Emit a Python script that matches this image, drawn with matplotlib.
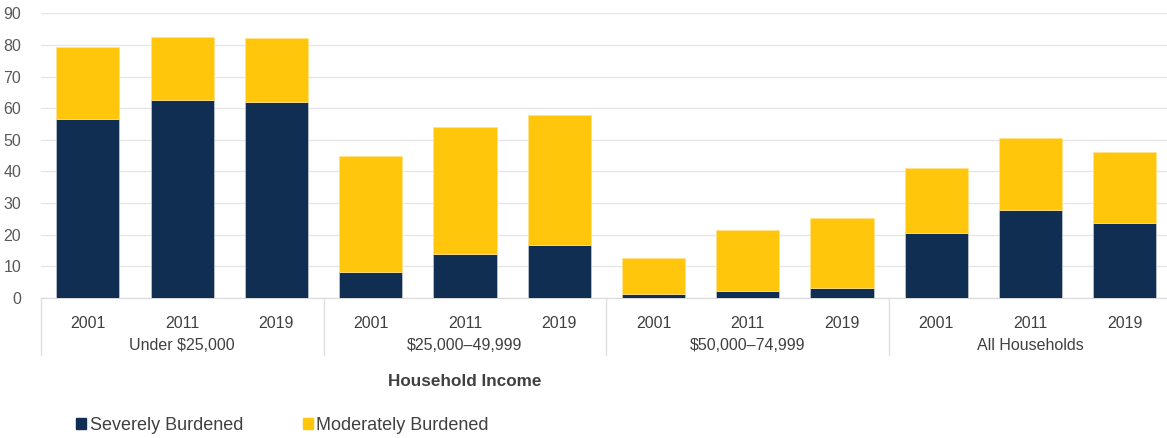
import numpy as np
import matplotlib.pyplot as plt
from matplotlib.patches import Patch
import matplotlib.transforms as mtransforms

plt.rcParams['font.family'] = ['Liberation Sans', 'DejaVu Sans']

# Data
groups = ['Under $25,000', '$25,000–49,999', '$50,000–74,999', 'All Households']
years = ['2001', '2011', '2019']
severe = [56.5, 62.6, 62.1, 8.1, 14.0, 16.7, 1.2, 2.1, 3.2, 20.6, 27.8, 23.8]
total = [79.4, 82.4, 82.2, 45.0, 54.1, 57.9, 12.6, 21.4, 25.3, 41.2, 50.7, 46.2]
moderate = [t - s for t, s in zip(total, severe)]

navy = '#102D52'
yellow = '#FFC60B'
grid_col = '#E6E6E6'
text_col = '#404040'

W, H = 1167, 438
fig = plt.figure(figsize=(W / 100, H / 100), dpi=100)
ax = fig.add_axes([40.7 / W, 1 - 298 / H, (1172 - 40.7) / W, (298 - 13.3) / H])

x = np.arange(len(severe))
ax.bar(x, severe, width=0.67, color=navy, edgecolor='#c8ccd4', linewidth=0.5, zorder=3)
ax.bar(x, moderate, bottom=severe, width=0.67, color=yellow, edgecolor='#ffe28a',
       linewidth=0.5, zorder=3)

ax.set_xlim(-0.5, 11.5)
ax.set_ylim(0, 90)
ax.set_yticks(range(0, 91, 10))
ax.yaxis.grid(True, color=grid_col, linewidth=1)
ax.set_axisbelow(True)
for s in ['top', 'right', 'left']:
    ax.spines[s].set_visible(False)
ax.spines['bottom'].set_color('#D9D9D9')
ax.tick_params(axis='y', length=0, labelsize=11.5, labelcolor='#595959', pad=14)

ax.set_xticks(x)
ax.set_xticklabels(years * len(groups))
ax.tick_params(axis='x', length=0, labelsize=11.5, labelcolor=text_col, pad=13)

# group labels and separators
trans = mtransforms.blended_transform_factory(ax.transData, ax.transAxes)
sep_bottom = -(355 - 298) / (298 - 13.3)
for i, g in enumerate(groups):
    ax.text(i * 3 + 1, -(346 - 298) / (298 - 13.3), g, transform=trans,
            ha='center', va='center', fontsize=11.5, color=text_col)
for b in [-0.5, 2.5, 5.5, 8.5]:
    ax.plot([b, b], [0, sep_bottom], transform=trans, color='#E0E0E0',
            linewidth=1, clip_on=False)

fig.text(465 / W, 1 - 382 / H, 'Household Income', ha='center', va='center',
         fontsize=12.3, fontweight='bold', color=text_col)

handles = [Patch(color=navy, label='Severely Burdened'),
           Patch(color=yellow, label='Moderately Burdened')]
fig.legend(handles=handles, loc='center left', bbox_to_anchor=(69 / W, 1 - 425 / H),
           ncol=2, frameon=False, fontsize=13, handlelength=0.55, handleheight=0.55,
           handletextpad=0.2, columnspacing=3.3, labelcolor=text_col, borderaxespad=0)

fig.savefig('out.png', dpi=100)
